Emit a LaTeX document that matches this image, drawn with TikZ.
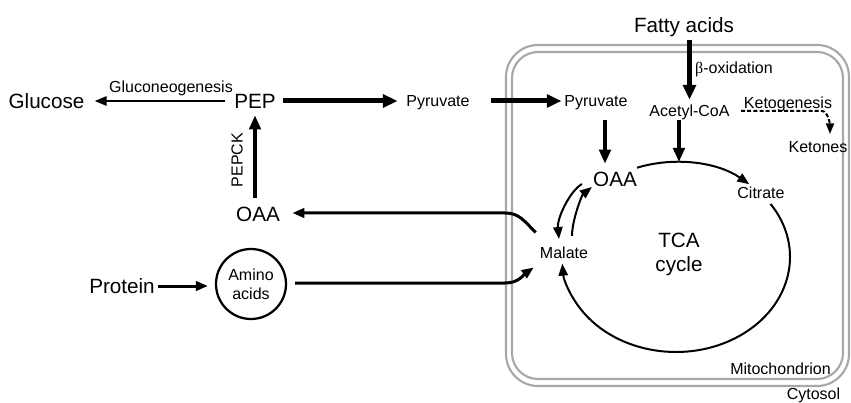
\documentclass[tikz,border=0pt]{standalone}
\usepackage{fontspec}
\setmainfont{Liberation Sans}
\newfontfamily\grkfont{Liberation Serif}
\usetikzlibrary{arrows.meta}
\definecolor{membrane}{HTML}{A8A8A8}

\begin{document}
\begin{tikzpicture}[x=0.75pt,y=-0.75pt,
  big/.style={font=\fontsize{15.5}{18}\selectfont, inner sep=0pt, text height=11.1pt, text depth=0pt},
  small/.style={font=\fontsize{12}{14}\selectfont, inner sep=0pt, text height=8.6pt, text depth=0pt},
  tcatext/.style={font=\fontsize{15.5}{18}\selectfont, inner sep=0pt, align=center},
  aminocirc/.style={draw, circle, line width=1.7pt, minimum size=52.5pt, inner sep=0pt,
    align=center, font=\fontsize{12}{14.25}\selectfont},
  memb/.style={draw=membrane, line width=1.6pt},
  thickarr/.style={line width=3.75pt, -{Triangle[length=11pt,width=9.5pt]}},
  medarr/.style={line width=3pt, -{Triangle[length=10.5pt,width=8.5pt]}},
  linearr/.style={line width=2.25pt, -{Triangle[length=9pt,width=7pt]}},
  thinarr/.style={line width=1.5pt, -{Triangle[length=9pt,width=7pt]}},
  dasharr/.style={line width=1.5pt, dash pattern=on 3pt off 1.6pt, -{Triangle[length=8pt,width=6pt]}},
]
\useasboundingbox (0,0) rectangle (851,403);

% mitochondrial double membrane
\draw[memb, rounded corners=24pt] (506,45) rectangle (849,386);
\draw[memb, rounded corners=19.5pt] (512,52) rectangle (843,379);

% metabolites
\node[big] (glucose) at (46.5,101) {Glucose};
\node[big] (pep) at (255,101) {PEP};
\node[small] (pyrc) at (438,101) {Pyruvate};
\node[small] (pyrm) at (596,101) {Pyruvate};
\node[big] (fatty) at (684,25) {Fatty acids};
\node[small] (acoa) at (689.5,111) {Acetyl-CoA};
\node[small] (ketones) at (818,147) {Ketones};
\node[big] (oaam) at (615,179) {OAA};
\node[small] (citrate) at (761,192.5) {Citrate};
\node[tcatext] (tca) at (679,254) {TCA\\cycle};
\node[small] (malate) at (564,252.5) {Malate};
\node[big] (oaac) at (258,214) {OAA};
\node[big] (protein) at (122,286) {Protein};
\node[aminocirc] (amino) at (251,284) {Amino\\acids};

% pathway and compartment labels
\node[small] (gluclbl) at (171,87) {Gluconeogenesis};
\node[small, rotate=90] (pepcklbl) at (237,160) {PEPCK};
\node[small] (betalbl) at (734,68) {{\grkfont β}-oxidation};
\node[small] (ketolbl) at (788,102.5) {Ketogenesis};
\node[small] (mitolbl) at (780.5,369) {Mitochondrion};
\node[small] (cytolbl) at (813.5,394) {Cytosol};

% helper points
\coordinate (tcac) at (676,257);
\path (tcac) ++(0,-95) coordinate (tcatop);
\path (ketones.north) ++(12,-7) coordinate (kettip);
\path (kettip |- acoa.east) ++(-8,0) coordinate (ketbend);
\path (malate.north west) ++(-4,-14) coordinate (mout);
\path (malate.south west) ++(-6,9) coordinate (min);
\coordinate (mbend) at (505,213);
\coordinate (abend) at (505,283);

% cytosolic reactions
\draw[thinarr, shorten <=7pt, shorten >=7.5pt] (pep.west) -- (glucose.east);
\draw[thickarr, shorten <=5.5pt, shorten >=6.4pt] (pep.east) -- (pyrc.west);
\draw[medarr, shorten <=6.5pt, shorten >=5pt] (pep.south |- oaac.north) -- (pep.south);
\draw[linearr, shorten <=2.5pt, shorten >=5.2pt] (protein.east) -- (amino.west |- protein.east);

% transport across the membrane
\draw[thickarr, shorten <=16pt, shorten >=2pt] (pyrc.east) -- (pyrm.west);
\draw[linearr, shorten >=9.2pt] (mout) .. controls +(-12,-12) and +(14,0) .. (mbend) -- (oaac.east |- mbend);
\draw[linearr, shorten <=6pt] (amino.east |- abend) -- (abend) .. controls +(14,0) and +(-10,7) .. (min);

% mitochondrial reactions
\draw[thickarr, shorten <=5.5pt, shorten >=4pt] (acoa.north |- fatty.south) -- (acoa.north);
\draw[medarr, shorten <=10pt, shorten >=5.7pt] ([xshift=6.75pt]pyrm.south) -- ([xshift=6.75pt]pyrm.south |- oaam.north);
\draw[medarr, shorten <=2.5pt] ([xshift=-7.9pt]acoa.south) -- ([xshift=-7.9pt]acoa.south |- tcatop);
\draw[dasharr, shorten <=8.5pt] (acoa.east) -- (ketbend) .. controls +(6,0) and +(0,-9) .. (kettip);

% TCA cycle
\draw[thinarr] (tcac) ++(-110:114 and 95) arc[start angle=-110, end angle=-50, x radius=114, y radius=95];
\draw[thinarr] (tcac) ++(-34:114 and 95) arc[start angle=-34, end angle=176, x radius=114, y radius=95];
\draw[thinarr] ([xshift=-8.25pt,yshift=-3.75pt]oaam.west) .. controls +(-12,7) and +(-2,-21) .. ([xshift=-3.75pt,yshift=5.6pt]malate.north);
\draw[thinarr] ([xshift=6pt,yshift=7.9pt]malate.north) .. controls +(0,-16) and +(-10,8) .. ([xshift=-0.75pt,yshift=-6pt]oaam.west);
\end{tikzpicture}
\end{document}
